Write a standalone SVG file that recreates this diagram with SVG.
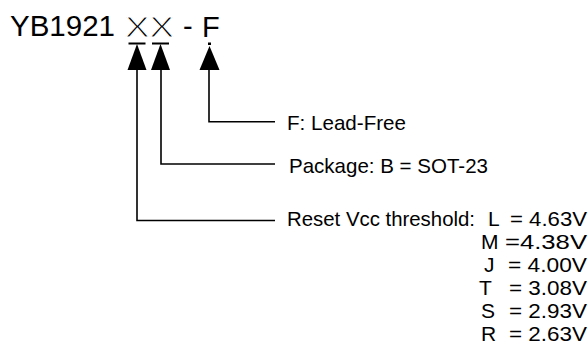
<svg xmlns="http://www.w3.org/2000/svg" width="588" height="345" viewBox="0 0 588 345">
<style>
text{font-family:"Liberation Sans",Arial,sans-serif;fill:#000}
.title{font-size:29px}
.xx{font-size:29px;stroke:#fff;stroke-width:1}
.lbl{font-size:21px}
.conn{fill:none;stroke:#000;stroke-width:1.6}
.head{fill:#000;stroke:none}
</style>
<defs>
<g id="headT">
<rect x="-8.5" y="-1" width="17" height="2"/>
<polygon points="0,0.5 -9.5,26.5 9.5,26.5"/>
</g>
<g id="headDot">
<rect x="-1.5" y="-1" width="3" height="2.5"/>
<polygon points="0,2.5 -10,26.5 10,26.5"/>
</g>
</defs>
<rect width="588" height="345" fill="#fff"/>
<g id="part-number">
<text class="title" x="10" y="36" textLength="105" lengthAdjust="spacingAndGlyphs">YB1921</text>
<text class="xx" x="125" y="37" textLength="49" lengthAdjust="spacingAndGlyphs">XX</text>
<text class="title" x="183" y="36">-</text>
<text class="title" x="202" y="37">F</text>
</g>
<g id="connectors">
<path class="conn" d="M137,68 V220.5 H275"/>
<path class="conn" d="M161,68 V164 H275"/>
<path class="conn" d="M209,68 V121.7 H275"/>
<use href="#headT" class="head" x="137" y="43.5"/>
<use href="#headT" class="head" x="160.5" y="43.5"/>
<use href="#headDot" class="head" x="209.5" y="43.5"/>
</g>
<g id="lead-free">
<text class="lbl" x="287" y="130" textLength="119" lengthAdjust="spacingAndGlyphs">F: Lead-Free</text>
</g>
<g id="package">
<text class="lbl" x="289" y="173" textLength="199" lengthAdjust="spacingAndGlyphs">Package: B = SOT-23</text>
</g>
<g id="reset-threshold">
<text class="lbl" x="287" y="226" textLength="188" lengthAdjust="spacingAndGlyphs">Reset Vcc threshold:</text>
<text class="lbl" x="488" y="226">L</text>
<text class="lbl" x="510" y="226" textLength="77" lengthAdjust="spacingAndGlyphs">= 4.63V</text>
<text class="lbl" x="481" y="249">M</text>
<text class="lbl" x="505" y="249" textLength="82" lengthAdjust="spacingAndGlyphs">=4.38V</text>
<text class="lbl" x="484" y="272">J</text>
<text class="lbl" x="508" y="272" textLength="79" lengthAdjust="spacingAndGlyphs">= 4.00V</text>
<text class="lbl" x="479" y="295">T</text>
<text class="lbl" x="509" y="295" textLength="78" lengthAdjust="spacingAndGlyphs">= 3.08V</text>
<text class="lbl" x="481" y="318">S</text>
<text class="lbl" x="509" y="318" textLength="78" lengthAdjust="spacingAndGlyphs">= 2.93V</text>
<text class="lbl" x="481" y="341">R</text>
<text class="lbl" x="509" y="341" textLength="78" lengthAdjust="spacingAndGlyphs">= 2.63V</text>
</g>
</svg>
